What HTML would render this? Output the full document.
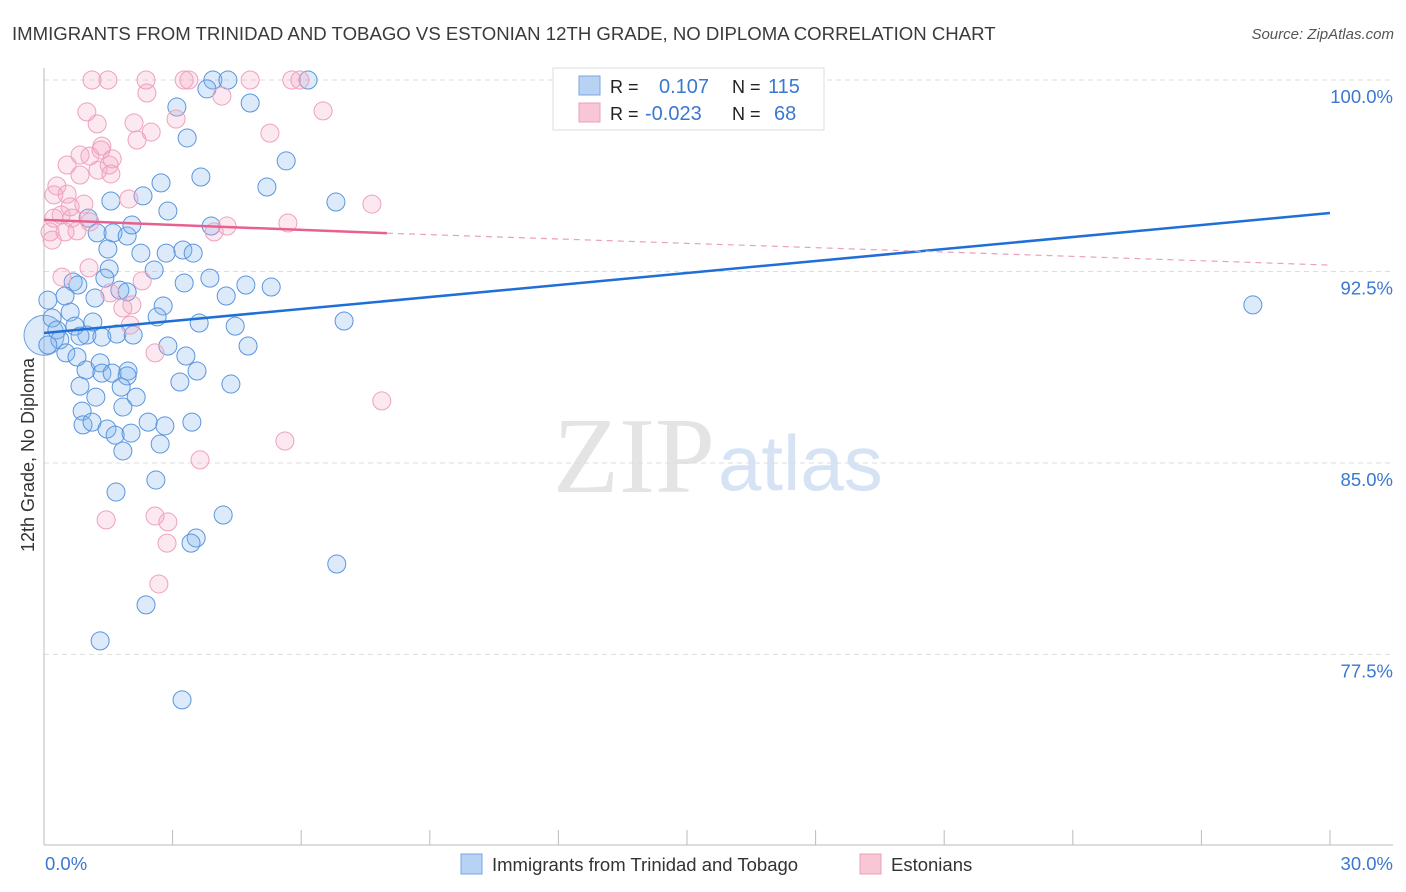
<!DOCTYPE html>
<html><head><meta charset="utf-8"><style>
body{margin:0;background:#fff;font-family:"Liberation Sans",sans-serif;}
svg{display:block}
</style></head><body>
<svg id="chart" width="1406" height="892" xmlns="http://www.w3.org/2000/svg">
<text x="12" y="40" font-size="18.6" fill="#3a3a3a" font-family="Liberation Sans">IMMIGRANTS FROM TRINIDAD AND TOBAGO VS ESTONIAN 12TH GRADE, NO DIPLOMA CORRELATION CHART</text>
<text x="1394" y="39" font-size="15" fill="#555" text-anchor="end" font-style="italic">Source: ZipAtlas.com</text>
<g>
<text x="553" y="492" font-size="108" fill="#e4e4e4" font-family="Liberation Serif">ZIP</text>
<text x="718" y="490" font-size="78" fill="#d6e3f5" font-family="Liberation Sans">atlas</text>
</g>
<g id="grid"></g>
<g id="axes"></g>
<g id="points"></g>
<g id="trends"></g>
<g>
<rect x="553" y="68" width="271" height="62" fill="#fff" stroke="#ddd"/>
<rect x="579" y="76" width="21" height="19" fill="#b8d2f3" stroke="#7aa6e0"/>
<rect x="579" y="103" width="21" height="19" fill="#f8c6d5" stroke="#eaa0b8"/>
<text x="610" y="93" font-size="18" fill="#222">R = </text>
<text x="659" y="93" font-size="20" fill="#3a78d0">0.107</text>
<text x="732" y="93" font-size="18" fill="#222">N = </text>
<text x="768" y="93" font-size="20" fill="#3a78d0">115</text>
<text x="610" y="120" font-size="18" fill="#222">R = </text>
<text x="645" y="120" font-size="20" fill="#3a78d0">-0.023</text>
<text x="732" y="120" font-size="18" fill="#222">N = </text>
<text x="774" y="120" font-size="20" fill="#3a78d0">68</text>
</g>
<text transform="translate(34,455) rotate(-90)" font-size="18" fill="#333" text-anchor="middle">12th Grade, No Diploma</text>
<g>
<rect x="461" y="854" width="21" height="20" fill="#b8d2f3" stroke="#7aa6e0"/>
<text x="492" y="871" font-size="18.5" fill="#333">Immigrants from Trinidad and Tobago</text>
<rect x="860" y="854" width="21" height="20" fill="#f8c6d5" stroke="#eaa0b8"/>
<text x="891" y="871" font-size="18.5" fill="#333">Estonians</text>
</g>
</svg>
<script>
const yTicks=[100,92.5,85,77.5];
const yTickLabels=["100.0%","92.5%","85.0%","77.5%"];
const xTickLabels=["0.0%","30.0%"];
const blueX=[3.94,4.29,6.16,3.80,3.10,4.81,3.34,5.65,3.66,5.20,2.73,2.31,6.81,1.56,2.89,1.03,3.90,1.24,1.61,1.94,2.05,1.49,2.26,2.85,3.24,3.48,2.57,1.52,3.27,3.87,4.71,5.30,4.25,1.42,0.68,0.79,1.19,1.77,1.94,2.78,2.64,3.62,4.46,7.00,4.76,2.89,3.31,1.00,1.14,1.35,1.70,2.08,0.09,0.19,0.30,0.49,0.61,0.72,0.37,0.09,0.84,0.51,0.77,3.57,0.98,1.31,1.35,1.59,1.96,1.94,0.84,1.80,3.17,4.36,1.21,2.15,1.84,0.89,0.91,1.12,1.47,1.66,2.03,2.43,2.82,3.45,2.71,1.84,2.61,1.68,4.18,3.55,3.43,6.83,2.38,1.31,3.22,28.20];
const blueY=[100,100,100,99.65,98.94,99.10,97.73,96.83,96.20,95.81,95.97,95.46,95.22,95.26,94.87,94.59,94.28,94.01,94.01,93.89,94.32,93.38,93.22,93.22,93.34,93.22,92.56,92.60,92.05,92.24,91.97,91.89,91.54,92.24,92.09,91.97,91.46,91.77,91.70,91.15,90.72,90.48,90.36,90.56,89.58,89.58,89.19,90.01,90.52,89.93,90.05,90.01,91.38,90.68,90.21,91.54,90.91,90.36,89.82,89.62,89.97,89.31,89.15,88.60,88.64,88.92,88.52,88.52,88.60,88.41,88.01,87.97,88.17,88.09,87.58,87.58,87.19,87.03,86.49,86.60,86.33,86.09,86.17,86.60,86.45,86.60,85.74,85.47,84.33,83.86,82.96,82.06,81.86,81.04,79.44,78.03,75.72,91.19];
const pinkX=[1.12,1.49,2.38,3.27,3.38,4.81,5.78,5.97,2.40,4.15,1.00,1.24,2.10,2.17,3.08,2.50,1.35,1.33,1.52,1.26,0.54,0.84,1.07,1.59,1.56,0.84,0.30,0.23,0.54,0.61,0.65,0.23,0.40,1.07,0.93,0.49,0.14,0.19,0.77,1.98,5.27,6.51,7.65,5.69,3.97,4.27,2.29,1.05,0.42,1.54,1.84,2.05,2.01,2.59,7.88,5.62,3.64,1.45,2.59,2.89,2.87,2.68];
const pinkY=[100,100,100,100,100,100,100,100,99.49,99.37,98.75,98.28,98.32,97.65,98.47,97.96,97.41,97.26,96.67,96.47,96.67,97.06,97.02,96.91,96.32,96.28,95.85,95.50,95.53,95.03,94.59,94.59,94.71,94.44,95.14,94.05,94.05,93.73,94.09,95.34,97.92,98.79,95.14,94.40,94.05,94.28,92.13,92.64,92.28,91.66,91.07,91.19,90.40,89.31,87.43,85.86,85.12,82.77,82.92,82.69,81.86,80.26];
const blueTrend=[[0,90.09],[30,94.79]];
const pinkTrend=[[0,94.52],[8,94.0],[30,92.75]];
const NS="http://www.w3.org/2000/svg";
const X=v=>44+v/30*1286;
const Y=v=>80+(100-v)*25.53;
function mk(t,a,p){const e=document.createElementNS(NS,t);for(const k in a)e.setAttribute(k,a[k]);p.appendChild(e);return e;}
const grid=document.getElementById('grid'),axes=document.getElementById('axes'),pts=document.getElementById('points'),tr=document.getElementById('trends');
yTicks.forEach((t,i)=>{
 const l=mk('line',{x1:44,x2:1393,y1:Y(t),y2:Y(t),stroke:'#ddd','stroke-dasharray':'5,4'},grid);
 
 
 const tx=mk('text',{x:1393,y:Y(t)+23,'font-size':18.5,fill:'#3a78d0','text-anchor':'end'},axes);
 tx.textContent=yTickLabels[i];
 
 
});
const ya=mk('line',{x1:44,x2:44,y1:68,y2:845,stroke:'#bbb'},axes);


const xa=mk('line',{x1:44,x2:1393,y1:845,y2:845,stroke:'#bbb'},axes);


for(let k=1;k<=10;k++){const v=k*3;const t=mk('line',{x1:X(v),x2:X(v),y1:830,y2:845,stroke:'#bbb'},axes);
 
 }
[[0,'start',45],[30,'end',1393]].forEach((d,i)=>{const t=mk('text',{x:d[2],y:870,'font-size':18.5,fill:'#3a78d0','text-anchor':d[1]},axes);t.textContent=xTickLabels[i];
 
 });
const bc=mk('circle',{cx:44,cy:Y(90),r:20,fill:'rgba(120,170,235,0.25)',stroke:'#6b9fe0','stroke-width':1},pts);


blueX.forEach((x,i)=>{const c=mk('circle',{cx:X(x),cy:Y(blueY[i]),r:9,fill:'rgba(130,178,238,0.28)',stroke:'#5b95de','stroke-width':1},pts);
 
 });
pinkX.forEach((x,i)=>{const c=mk('circle',{cx:X(x),cy:Y(pinkY[i]),r:9,fill:'rgba(245,165,195,0.25)',stroke:'#eea2bb','stroke-width':1},pts);
 
 });
const bl=mk('line',{x1:X(blueTrend[0][0]),y1:Y(blueTrend[0][1]),x2:X(blueTrend[1][0]),y2:Y(blueTrend[1][1]),stroke:'#1f6fd6','stroke-width':2.5},tr);


const pl=mk('line',{x1:X(pinkTrend[0][0]),y1:Y(pinkTrend[0][1]),x2:X(pinkTrend[1][0]),y2:Y(pinkTrend[1][1]),stroke:'#e8608f','stroke-width':2.5},tr);


const pd=mk('line',{x1:X(pinkTrend[1][0]),y1:Y(pinkTrend[1][1]),x2:X(pinkTrend[2][0]),y2:Y(pinkTrend[2][1]),stroke:'#eaa0b8','stroke-width':1.2,'stroke-dasharray':'6,5'},tr);


</script>
</body></html>
